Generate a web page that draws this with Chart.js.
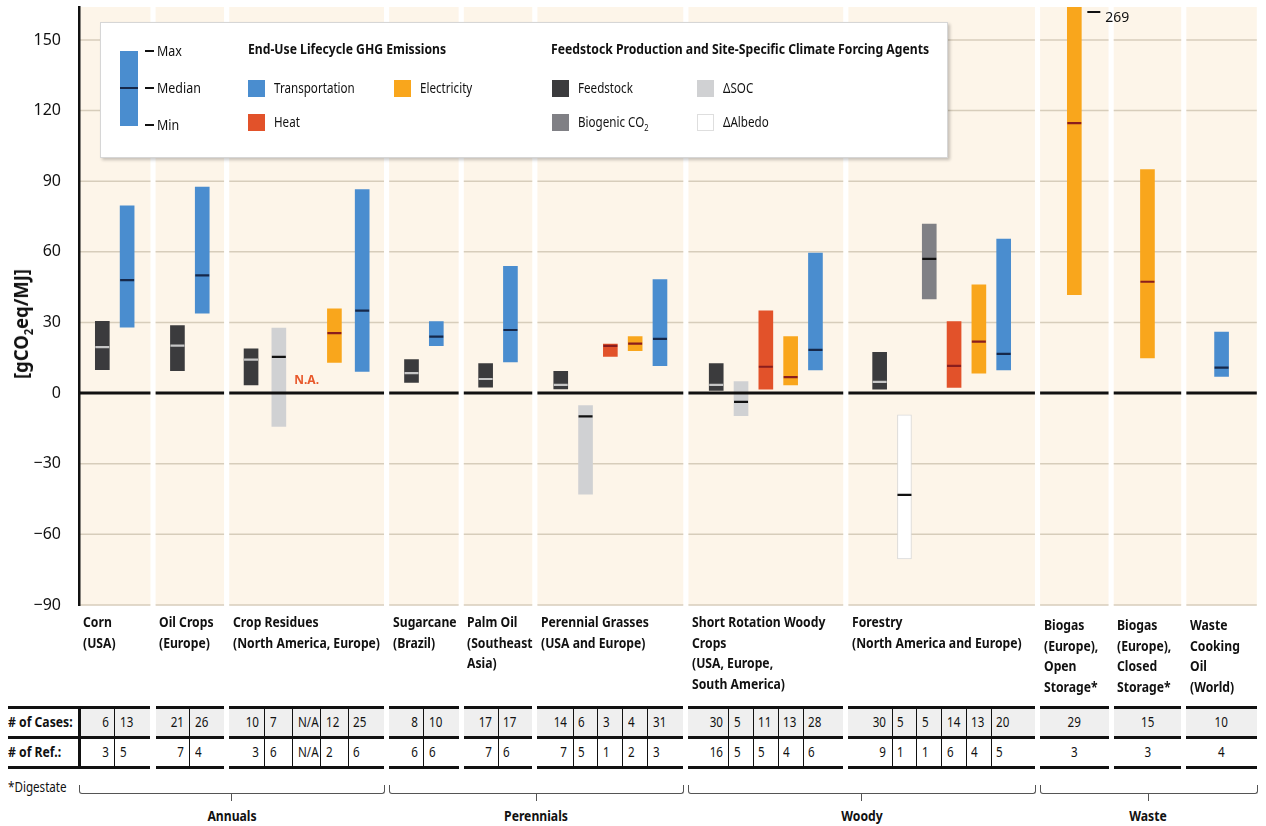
<!DOCTYPE html>
<html lang="en">
<head>
<meta charset="UTF-8">
<title>Lifecycle GHG emissions of bioenergy pathways</title>
<script src="https://cdn.jsdelivr.net/npm/chart.js@4.4.1/dist/chart.umd.min.js"></script>
<style>
  body { margin: 0; padding: 0; background: #fff; }
  #page { position: relative; width: 1266px; height: 826px; overflow: hidden;
          font-family: "Noto Sans", "Liberation Sans", sans-serif; color: #111; }
  #wrap { position: absolute; left: 0; top: -10px; width: 1266px; height: 634px; }
  .abs { position: absolute; white-space: nowrap; }
  .legend { position: absolute; left: 100px; top: 22px; width: 846px; height: 134px; background: #fff;
            border: 1px solid #d6d6d6; box-shadow: 2px 2px 3px rgba(0,0,0,0.22); }
  .lt { position: absolute; font-size: 14px; line-height: 16px; white-space: nowrap;
        transform: scaleX(0.83); transform-origin: 0 50%; }
  .lh { position: absolute; font-size: 14px; line-height: 16px; font-weight: bold; white-space: nowrap;
        transform: scaleX(0.87); transform-origin: 0 50%; }
  .sw { position: absolute; width: 17px; height: 17px; }
  .cat { position: absolute; font-size: 14px; line-height: 20.5px; font-weight: bold; white-space: nowrap;
         transform: scaleX(0.87); transform-origin: 0 0; }
  .cell { position: absolute; font-size: 14px; line-height: 16px; white-space: nowrap;
          transform: scaleX(0.83); transform-origin: 0 50%; }
  .cell.r { transform-origin: 100% 50%; }
  .cell.c { transform-origin: 50% 50%; }
  .blk { position: absolute; background: #111; }
</style>
</head>
<body>
<div id="page">
  <div id="wrap"><canvas id="chart"></canvas></div>
</div>
<script>
// ---- data ----
const groupNames = [
  ['Corn', '(USA)'],
  ['Oil Crops', '(Europe)'],
  ['Crop Residues', '(North America, Europe)'],
  ['Sugarcane', '(Brazil)'],
  ['Palm Oil', '(Southeast', 'Asia)'],
  ['Perennial Grasses', '(USA and Europe)'],
  ['Short Rotation Woody', 'Crops', '(USA, Europe,', 'South America)'],
  ['Forestry', '(North America and Europe)'],
  ['Biogas', '(Europe),', 'Open', 'Storage*'],
  ['Biogas', '(Europe),', 'Closed', 'Storage*'],
  ['Waste', 'Cooking', 'Oil', '(World)']
];
const groupBars = [
  ['feed', 'trans'],
  ['feed', 'trans'],
  ['feed', 'soc', 'heat', 'elec', 'trans'],
  ['feed', 'trans'],
  ['feed', 'trans'],
  ['feed', 'soc', 'heat', 'elec', 'trans'],
  ['feed', 'soc', 'heat', 'elec', 'trans'],
  ['feed', 'albedo', 'bio', 'heat', 'elec', 'trans'],
  ['elec'], ['elec'], ['trans']
];
const barMin = [
  [10, 28], [9.5, 34], [3.5, -14.2, null, 13, 9.2], [4.5, 20.2], [2.5, 13.2],
  [1.8, -42.9, 15.6, 18, 11.7], [1.1, -9.6, 1.7, 3.5, 9.9],
  [1.7, -70.4, 40, 2.4, 8.5, 9.9], [41.8], [14.9], [7.1]
];
const barMed = [
  [19.5, 48], [20.2, 50], [14.2, 15.4, null, 25.5, 35], [8.5, 24], [6, 26.8],
  [3.5, -9.9, 20.1, 21, 23], [3.5, -3.7, 11.2, 6.8, 18.4],
  [4.8, -43.2, 57, 11.6, 21.9, 16.7], [114.7], [47.3], [10.8]
];
const barMax = [
  [30.5, 79.5], [28.7, 87.5], [18.8, 27.6, null, 35.8, 86.4], [14.2, 30.4], [12.5, 53.8],
  [9.2, -5.3, 20.8, 24, 48.2], [12.5, 4.9, 35, 24, 59.5],
  [17.3, -9.2, 71.8, 30.4, 46, 65.4], [269], [94.9], [25.9]
];
const nCases = [
  [6, 13], [21, 26], [10, 7, 'N/A', 12, 25], [8, 10], [17, 17],
  [14, 6, 3, 4, 31], [30, 5, 11, 13, 28], [30, 5, 5, 14, 13, 20], [29], [15], [10]
];
const nRefs = [
  [3, 5], [7, 4], [3, 6, 'N/A', 2, 6], [6, 6], [7, 6],
  [7, 5, 1, 2, 3], [16, 5, 5, 4, 6], [9, 1, 1, 6, 4, 5], [3], [3], [4]
];
const superGroups = ['Annuals', 'Perennials', 'Woody', 'Waste'];
const superSpans = [[0, 2], [3, 5], [6, 7], [8, 10]];
const yTicks = [-90, -60, -30, 0, 30, 60, 90, 120, 150];

// ---- styling / layout ----
const TYPES = {
  trans:  { label: 'Transportation', color: '#4a8dcf', med: '#16284a' },
  heat:   { label: 'Heat',           color: '#e2522a', med: '#8a1d1d' },
  elec:   { label: 'Electricity',    color: '#f9a61c', med: '#8a1d1d' },
  feed:   { label: 'Feedstock',      color: '#3b3b3d', med: '#c6c6c6' },
  bio:    { label: 'Biogenic CO2',   color: '#808085', med: '#111111' },
  soc:    { label: 'ΔSOC',           color: '#d0d1d3', med: '#111111' },
  albedo: { label: 'ΔAlbedo',        color: '#ffffff', med: '#111111' }
};
const CREAM = '#fdf5e9';
const GRID = '#d7cdbb';
const FAM = '"Noto Sans", "Liberation Sans", sans-serif';
const X0 = 79, X1 = 1266, GAP = 5.2;
const TOP_PX = 7, BOTTOM_PX = 605;
const groupWidth = [72, 69, 156, 70, 69, 147, 156, 188, 69, 68, 71];
const groupPitch = [25, 25, 28, 25, 25, 25, 25, 25, 25, 25, 25];

let acc = X0;
const geo = groupWidth.map((w, i) => {
  const s = acc; acc += w + GAP;
  const n = groupBars[i].length, mid = s + w / 2;
  const cx = groupBars[i].map((t, j) => mid + (j - (n - 1) / 2) * groupPitch[i]);
  return { start: s, end: s + w, cx: cx };
});

// datasets: one floating-bar set per type, one scatter set for the medians
const datasets = [];
Object.keys(TYPES).forEach(t => {
  const pts = [];
  groupBars.forEach((types, g) => types.forEach((tt, j) => {
    if (tt === t && barMin[g][j] !== null) pts.push({ x: geo[g].cx[j], y: [barMin[g][j], barMax[g][j]] });
  }));
  datasets.push({
    type: 'bar', label: TYPES[t].label, data: pts,
    backgroundColor: TYPES[t].color,
    borderColor: t === 'albedo' ? '#d9d9d9' : TYPES[t].color,
    borderWidth: t === 'albedo' ? 1 : 0,
    borderSkipped: false, barThickness: 14, grouped: false, order: 2
  });
});
const medPts = [], medCols = [];
groupBars.forEach((types, g) => types.forEach((t, j) => {
  if (barMed[g][j] !== null) { medPts.push({ x: geo[g].cx[j], y: barMed[g][j] }); medCols.push(TYPES[t].med); }
}));
datasets.push({
  type: 'scatter', label: 'Median', data: medPts,
  pointStyle: 'line', pointRadius: 7, pointBorderWidth: 2.2,
  pointBorderColor: medCols, pointBackgroundColor: medCols, order: 0
});

const panels = {
  id: 'panels',
  beforeDraw(chart) {
    const { ctx, chartArea: a, scales: { x, y } } = chart;
    ctx.save();
    geo.forEach(g => {
      const l = x.getPixelForValue(g.start), r = x.getPixelForValue(g.end);
      ctx.fillStyle = CREAM;
      ctx.fillRect(l, a.top, r - l, a.bottom - a.top);
      ctx.strokeStyle = GRID; ctx.lineWidth = 1.5;
      yTicks.forEach(v => {
        if (v === 0) return;
        const py = y.getPixelForValue(v);
        ctx.beginPath(); ctx.moveTo(l, py); ctx.lineTo(r, py); ctx.stroke();
      });
    });
    ctx.restore();
  },
  afterDatasetsDraw(chart) {
    const { ctx, chartArea: a, scales: { x, y } } = chart;
    ctx.save();
    const p0 = y.getPixelForValue(0);
    ctx.strokeStyle = '#111'; ctx.lineWidth = 3;
    geo.forEach(g => {
      ctx.beginPath();
      ctx.moveTo(x.getPixelForValue(g.start), p0); ctx.lineTo(x.getPixelForValue(g.end), p0);
      ctx.stroke();
    });
    groupBars.forEach((types, g) => types.forEach((t, j) => {
      const cx = x.getPixelForValue(geo[g].cx[j]);
      if (barMin[g][j] === null) {
        ctx.fillStyle = '#e8582a'; ctx.font = 'bold 12px ' + FAM;
        ctx.textAlign = 'center'; ctx.textBaseline = 'middle';
        ctx.fillText('N.A.', cx, y.getPixelForValue(5.5));
      } else if (barMax[g][j] > y.max) {
        ctx.strokeStyle = '#111'; ctx.lineWidth = 2;
        ctx.beginPath(); ctx.moveTo(cx + 13, a.top + 5); ctx.lineTo(cx + 26, a.top + 5); ctx.stroke();
        ctx.fillStyle = '#111'; ctx.font = '14px ' + FAM;
        ctx.textAlign = 'left'; ctx.textBaseline = 'middle';
        ctx.fillText(String(barMax[g][j]), cx + 31, a.top + 11);
      }
    }));
    ctx.restore();
  }
};

const wrap = document.getElementById('wrap');
const chart = new Chart(document.getElementById('chart'), {
  type: 'bar',
  data: { datasets: datasets },
  plugins: [panels],
  options: {
    responsive: true, maintainAspectRatio: false, animation: false, events: [],
    layout: { padding: 0 },
    plugins: { legend: { display: false }, tooltip: { enabled: false } },
    scales: {
      x: { type: 'linear', min: X0, max: X1, offset: false, display: false },
      y: {
        type: 'linear', min: -90, max: 164,
        afterBuildTicks: s => { s.ticks = yTicks.map(v => ({ value: v })); },
        afterFit: s => { s.width = X0; },
        grid: { display: false },
        border: { display: true, color: '#111', width: 2.5 },
        ticks: {
          padding: 10, color: '#111',
          font: { family: FAM, size: 16, lineHeight: 1 },
          callback: v => v < 0 ? '\u2212' + Math.abs(v) : String(v)
        }
      }
    }
  }
});

// pin the plot area to the reference's pixel rows
{
  const ca = chart.chartArea;
  const padT = ca.top, padB = chart.height - ca.bottom;
  wrap.style.top = (TOP_PX - padT) + 'px';
  wrap.style.height = (BOTTOM_PX - TOP_PX + padT + padB) + 'px';
  chart.resize();
}

// ---- HTML parts: legend, axis title, category labels, table, brackets ----
const page = document.getElementById('page');
function add(cls, style, html) {
  const d = document.createElement('div');
  d.className = cls; d.style.cssText = style; if (html !== undefined) d.innerHTML = html;
  page.appendChild(d); return d;
}
const xs = chart.scales.x;
const px = v => xs.getPixelForValue(v);

add('abs', 'left:22px;top:324px;transform:translate(-50%,-50%) rotate(-90deg) scaleX(0.92);font-size:20px;font-weight:bold;',
    '[gCO<sub style="font-size:12px">2</sub>eq/MJ]');

// legend
add('legend', '');
add('sw', 'left:120px;top:51px;width:18px;height:75px;background:' + TYPES.trans.color);
add('blk', 'left:120px;top:87px;width:18px;height:2px;background:' + TYPES.trans.med);
[['Max', 51], ['Median', 88], ['Min', 125]].forEach(([t, yy]) => {
  add('blk', 'left:145px;top:' + (yy - 1) + 'px;width:9px;height:2px;');
  add('lt', 'left:157px;top:' + (yy - 9) + 'px;font-size:15px;', t);
});
add('lh', 'left:248px;top:41px;', 'End-Use Lifecycle GHG Emissions');
add('lh', 'left:551px;top:41px;', 'Feedstock Production and Site-Specific Climate Forcing Agents');
const legItems = [
  ['trans', 248, 80, 'Transportation'], ['heat', 248, 114, 'Heat'], ['elec', 394, 80, 'Electricity'],
  ['feed', 552, 80, 'Feedstock'], ['bio', 552, 114, 'Biogenic CO<sub style="font-size:9px">2</sub>'],
  ['soc', 697, 80, 'ΔSOC'], ['albedo', 697, 114, 'ΔAlbedo']
];
legItems.forEach(([t, lx, ly, txt]) => {
  add('sw', 'left:' + lx + 'px;top:' + ly + 'px;background:' + TYPES[t].color +
      (t === 'albedo' ? ';box-sizing:border-box;border:1px solid #dedede' : ''));
  add('lt', 'left:' + (lx + 26) + 'px;top:' + ly + 'px;', txt);
});

// category labels
groupNames.forEach((lines, g) => {
  const dy = g >= 8 ? 3 : 0;
  add('cat', 'left:' + (px(geo[g].start) + 3.5) + 'px;top:' + (612 + dy) + 'px;', lines.join('<br>'));
});

// table
const T_TOP = 705.5, R1 = 708.5, MID = 735.5, BOT = 766;
add('lh', 'left:8px;top:' + (723 - 9) + 'px;', '# of Cases:');
add('lh', 'left:8px;top:' + (752.5 - 9) + 'px;', '# of Ref.:');
[T_TOP, MID, BOT].forEach(t => add('blk', 'left:8px;top:' + t + 'px;width:71px;height:3px;'));
add('blk', 'left:78px;top:' + T_TOP + 'px;width:3px;height:' + (BOT + 3 - T_TOP) + 'px;');
geo.forEach((gg, g) => {
  const l = Math.max(px(gg.start), 81), r = px(gg.end);
  add('abs', 'left:' + l + 'px;top:' + R1 + 'px;width:' + (r - l) + 'px;height:' + (MID - R1) + 'px;background:#efefef;');
  [T_TOP, MID, BOT].forEach(t => add('blk', 'left:' + l + 'px;top:' + t + 'px;width:' + (r - l) + 'px;height:3px;'));
  const cx = gg.cx.map(px);
  const seps = cx.slice(1).map((c, j) => (c + cx[j]) / 2);
  seps.forEach(s => add('blk', 'left:' + (s - 0.5) + 'px;top:' + R1 + 'px;width:1px;height:' + (BOT - R1) + 'px;'));
  [[nCases[g], 723], [nRefs[g], 752.5]].forEach(([vals, cy]) => {
    vals.forEach((v, j) => {
      let st, cls = 'cell';
      if (vals.length === 1) { st = 'left:' + l + 'px;width:' + (r - l) + 'px;text-align:center;'; cls += ' c'; }
      else if (j === 0) { st = 'left:' + (seps[0] - 60) + 'px;width:54px;text-align:right;'; cls += ' r'; }
      else st = 'left:' + (seps[j - 1] + 5) + 'px;';
      add(cls, st + 'top:' + (cy - 9) + 'px;', String(v));
    });
  });
});

// footnote and brackets
add('lt', 'left:8px;top:779px;', '*Digestate');
superGroups.forEach((name, k) => {
  const [a, b] = superSpans[k];
  const l = px(geo[a].start), r = Math.min(px(geo[b].end), 1265);
  add('abs', 'left:' + l + 'px;top:785px;width:' + (r - l - 1.2) + 'px;height:8px;border:1.2px solid #555;border-top:none;border-radius:0 0 3px 3px;');
  const c = (l + r) / 2;
  add('abs', 'left:' + (c - 0.6) + 'px;top:794px;width:1.2px;height:7px;background:#555;');
  add('lh', 'left:' + c + 'px;top:808px;transform:translateX(-50%) scaleX(0.87);transform-origin:50% 50%;', name);
});
</script>
</body>
</html>
